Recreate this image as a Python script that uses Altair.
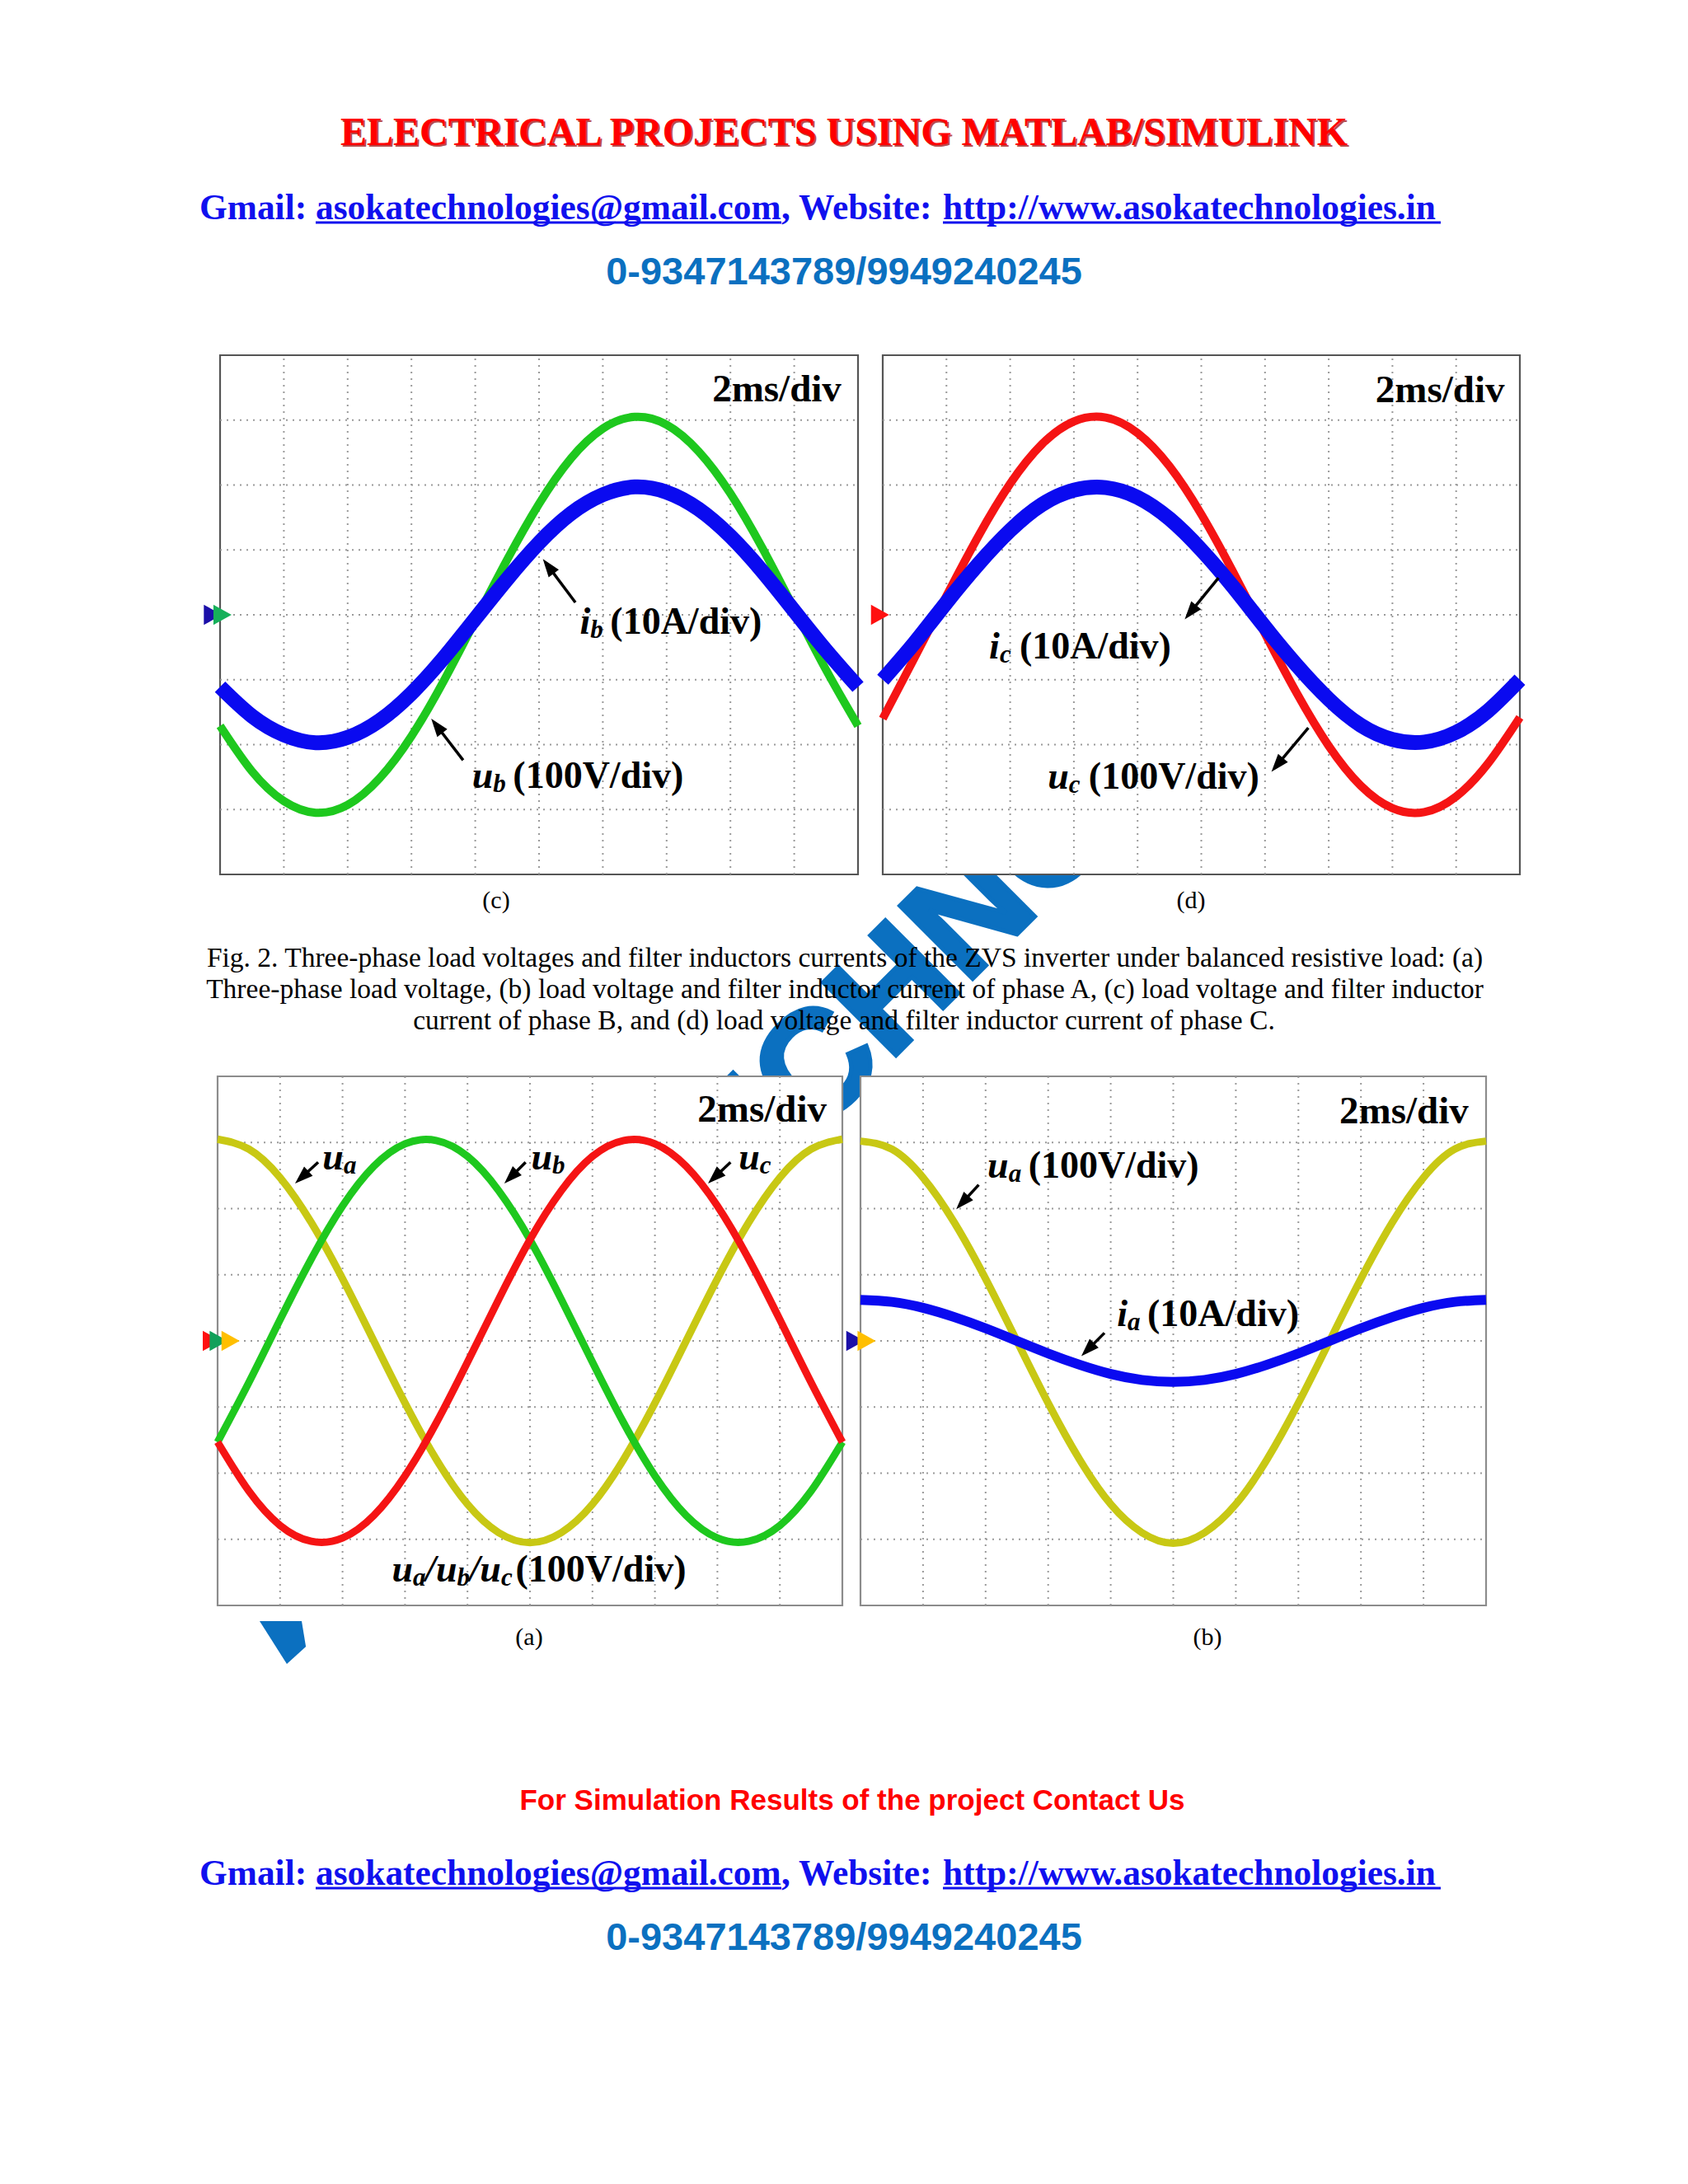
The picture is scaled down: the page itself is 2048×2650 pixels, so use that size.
import math
import altair as alt
import pandas as pd

# ---------------- values (scope divisions) ----------------
T_DIV = [0.0, 0.5, 1.0, 1.5, 2.0, 2.5, 3.0, 3.5, 4.0, 4.5, 5.0,
         5.5, 6.0, 6.5, 7.0, 7.5, 8.0, 8.5, 9.0, 9.5, 10.0]

# panel (c): phase B
C_UB = [-1.71, -2.41, -2.87, -3.05, -2.93, -2.52, -1.87, -1.03, -0.09, 0.85, 1.71,
        2.41, 2.87, 3.05, 2.93, 2.52, 1.87, 1.03, 0.09, -0.85, -1.71]
C_IB = [-1.11, -1.56, -1.85, -1.97, -1.89, -1.63, -1.21, -0.67, -0.06, 0.55, 1.11,
        1.56, 1.85, 1.97, 1.89, 1.63, 1.21, 0.67, 0.06, -0.55, -1.11]
# panel (d): phase C
D_UC = [-1.60, -0.66, 0.29, 1.21, 2.02, 2.63, 2.98, 3.04, 2.80, 2.29, 1.55,
        0.66, -0.29, -1.21, -2.02, -2.63, -2.98, -3.04, -2.80, -2.29, -1.58]
D_IC = [-1.00, -0.43, 0.19, 0.78, 1.30, 1.70, 1.92, 1.96, 1.81, 1.48, 1.00,
        0.43, -0.19, -0.78, -1.30, -1.70, -1.92, -1.96, -1.81, -1.48, -1.00]
# panel (a): three-phase voltages
A_UA = [3.05, 2.90, 2.47, 1.79, 0.94, 0.00, -0.94, -1.79, -2.47, -2.90, -3.05,
        -2.90, -2.47, -1.79, -0.94, 0.00, 0.94, 1.79, 2.47, 2.90, 3.05]
A_UB = [-1.53, -0.63, 0.32, 1.24, 2.04, 2.64, 2.98, 3.03, 2.79, 2.27, 1.53,
        0.63, -0.32, -1.24, -2.04, -2.64, -2.98, -3.03, -2.79, -2.27, -1.53]
A_UC = [-1.53, -2.27, -2.79, -3.03, -2.98, -2.64, -2.04, -1.24, -0.32, 0.63, 1.53,
        2.27, 2.79, 3.03, 2.98, 2.64, 2.04, 1.24, 0.32, -0.63, -1.53]
# panel (b): phase A
B_UA = [3.02, 2.90, 2.47, 1.79, 0.94, 0.00, -0.94, -1.79, -2.47, -2.90, -3.06,
        -2.90, -2.47, -1.79, -0.94, 0.00, 0.94, 1.79, 2.47, 2.90, 3.02]
B_IA = [0.62, 0.59, 0.50, 0.36, 0.19, 0.00, -0.19, -0.36, -0.50, -0.59, -0.62,
        -0.59, -0.50, -0.36, -0.19, 0.00, 0.19, 0.36, 0.50, 0.59, 0.62]

GRID_X = [1, 2, 3, 4, 5, 6, 7, 8, 9]
GRID_Y = [-3, -2, -1, 0, 1, 2, 3]

CAPTION = [
    "Fig. 2. Three-phase load voltages and filter inductors currents of the ZVS inverter under balanced resistive load: (a)",
    "Three-phase load voltage, (b) load voltage and filter inductor current of phase A, (c) load voltage and filter inductor",
    "current of phase B, and (d) load voltage and filter inductor current of phase C.",
]

# ---------------- styling / layout ----------------
SERIF = "Liberation Serif"
SANS = "Liberation Sans"
GREEN, BLUE, RED, YELLOW = "#1EC81E", "#0A0AF0", "#F51414", "#C8C814"
LINKBLUE, PHONEBLUE = "#1010EE", "#0B70C0"
ONE = pd.DataFrame({"k": [0]})

# panel boxes in chart pixels: x0, x1, ytop, ybottom
GEOM = {
    "c": (259, 1033, 423, 1053),
    "d": (1063, 1836, 423, 1053),
    "a": (256, 1014, 1298, 1940),
    "b": (1036, 1795, 1298, 1940),
}
TRI_RIGHT = "M-0.85,-1L0.95,0L-0.85,1Z"
ARROW = "M0,-1L0.7,1L-0.7,1Z"
WM_PIECE = "M-1,-0.77L0.7,-0.77L0.87,0.27L0.1,0.97Z"
HEAD = 22


def panel(key, curves, markers, labels, arrows, border):
    x0, x1, yt, yb = GEOM[key]
    xs = alt.Scale(domain=[0, 10], range=[x0, x1], nice=False, zero=False)
    ys = alt.Scale(domain=[-4, 4], range=[yb, yt], nice=False, zero=False)

    def X(f):
        return alt.X(f, type="quantitative", scale=xs, axis=None)

    def Y(f):
        return alt.Y(f, type="quantitative", scale=ys, axis=None)

    L = []
    frame = pd.DataFrame({"x": [0], "x2": [10], "y": [-4], "y2": [4]})
    L.append(alt.Chart(frame).mark_rect(fill="white", stroke=border, strokeWidth=2.2)
             .encode(x=X("x"), x2="x2", y=Y("y"), y2="y2"))
    gv = pd.DataFrame({"g": GRID_X, "lo": -4, "hi": 4})
    L.append(alt.Chart(gv).mark_rule(color="#9a9a9a", strokeWidth=2, strokeDash=[2, 6])
             .encode(x=X("g"), y=Y("lo"), y2="hi"))
    gh = pd.DataFrame({"g": GRID_Y, "lo": 0, "hi": 10})
    L.append(alt.Chart(gh).mark_rule(color="#9a9a9a", strokeWidth=2, strokeDash=[2, 6])
             .encode(y=Y("g"), x=X("lo"), x2="hi"))
    for vals, color, w in curves:
        df = pd.DataFrame({"t": T_DIV, "v": vals})
        L.append(alt.Chart(df).mark_line(color=color, strokeWidth=w, interpolate="natural",
                                         strokeJoin="round")
                 .encode(x=X("t"), y=Y("v")))
    for mx, color in markers:
        df = pd.DataFrame({"mx": [mx], "my": [0]})
        L.append(alt.Chart(df).mark_point(shape=TRI_RIGHT, filled=True, size=600, color=color,
                                          opacity=1, strokeWidth=0)
                 .encode(x=X("mx"), y=Y("my")))
    ppx = (x1 - x0) / 10.0
    ppy = (yb - yt) / 8.0
    for tx, ty, hx, hy in arrows:
        dxp = (hx - tx) * ppx
        dyp = -(hy - ty) * ppy
        ln = math.hypot(dxp, dyp)
        ang = math.degrees(math.atan2(dxp, -dyp)) % 360
        cx = hx - (dxp / ln) * HEAD * 0.5 / ppx
        cy = hy + (dyp / ln) * HEAD * 0.5 / ppy
        df = pd.DataFrame({"tx": [tx], "ty": [ty], "hx": [cx], "hy": [cy]})
        L.append(alt.Chart(df).mark_rule(color="black", strokeWidth=3.5)
                 .encode(x=X("tx"), y=Y("ty"), x2="hx", y2="hy"))
        L.append(alt.Chart(df).mark_point(shape=ARROW, filled=True, size=HEAD * HEAD,
                                          angle=round(ang, 1), color="black", opacity=1,
                                          strokeWidth=0)
                 .encode(x=X("hx"), y=Y("hy")))
    for lx, ly, pieces in labels:
        df = pd.DataFrame({"lx": [lx], "ly": [ly]})
        for text, dx, dy, size, style, align in pieces:
            L.append(alt.Chart(df).mark_text(text=text, dx=dx, dy=dy, fontSize=size, font=SERIF,
                                             fontWeight="bold", fontStyle=style, align=align,
                                             baseline="middle", color="black")
                     .encode(x=X("lx"), y=Y("ly")))
    return alt.layer(*L)


def sym(letter, sub, tail=None):
    """pieces of a label like u_b (100V/div)"""
    wl = 25.6 if letter == "u" else 12.8
    p = [(letter, 0, 0, 46, "italic", "left"), (sub, wl, 10, 31, "italic", "left")]
    if tail:
        p.append((tail, wl + 24, 0, 46, "normal", "left"))
    return p


TIMEBASE = [("2ms/div", 0, 0, 47, "normal", "right")]

panel_c = panel(
    "c",
    [(C_UB, GREEN, 10), (C_IB, BLUE, 18)],
    [(-0.12, "#1B0FA8"), (0.03, "#16B05A")],
    [(9.74, 3.47, TIMEBASE),
     (5.64, -0.12, sym("i", "b", "(10A/div)")),
     (3.95, -2.49, sym("u", "b", "(100V/div)"))],
    [(5.57, 0.19, 5.06, 0.86), (3.81, -2.24, 3.31, -1.60)],
    "#555555",
)
panel_d = panel(
    "d",
    [(D_UC, RED, 10), (D_IC, BLUE, 18)],
    [(-0.05, "#FF1010")],
    [(9.76, 3.46, TIMEBASE),
     (1.67, -0.50, sym("i", "c", "(10A/div)")),
     (2.59, -2.50, sym("u", "c", "(100V/div)"))],
    [(5.27, 0.57, 4.74, -0.07), (6.68, -1.74, 6.10, -2.42)],
    "#555555",
)
panel_a = panel(
    "a",
    [(A_UA, YELLOW, 9), (A_UB, GREEN, 9), (A_UC, RED, 9)],
    [(-0.10, "#FF1010"), (0.01, "#11A05A"), (0.20, "#FFBF00")],
    [(9.75, 3.49, TIMEBASE),
     (1.68, 2.77, sym("u", "a")),
     (5.02, 2.77, sym("u", "b")),
     (8.34, 2.77, sym("u", "c")),
     (2.79, -3.46,
      [("u", 0, 0, 46, "italic", "left"), ("a", 25.6, 10, 31, "italic", "left"),
       ("/", 40.6, 0, 46, "italic", "left"),
       ("u", 53.4, 0, 46, "italic", "left"), ("b", 79.0, 10, 31, "italic", "left"),
       ("/", 94.0, 0, 46, "italic", "left"),
       ("u", 106.8, 0, 46, "italic", "left"), ("c", 132.4, 10, 31, "italic", "left"),
       ("(100V/div)", 150, 0, 46, "normal", "left")])],
    [(1.61, 2.70, 1.24, 2.38), (4.93, 2.70, 4.59, 2.38), (8.21, 2.70, 7.85, 2.38)],
    "#8c8c8c",
)
panel_b = panel(
    "b",
    [(B_UA, YELLOW, 9), (B_IA, BLUE, 12)],
    [(-0.09, "#1B0FA8"), (0.09, "#FFBF00")],
    [(9.72, 3.46, TIMEBASE),
     (2.03, 2.64, sym("u", "a", "(100V/div)")),
     (4.10, 0.40, sym("i", "a", "(10A/div)"))],
    [(1.89, 2.36, 1.53, 1.99), (3.90, 0.12, 3.53, -0.23)],
    "#8c8c8c",
)


def text_px(text, x, y, size, font, color, weight="bold", align="center", angle=0,
            opacity=1, stroke_w=0):
    kw = {}
    if stroke_w:
        kw = {"stroke": color, "strokeWidth": stroke_w}
    return alt.Chart(ONE).mark_text(text=text, fontSize=size, font=font, color=color,
                                    fontWeight=weight, align=align, baseline="middle",
                                    angle=angle, opacity=opacity, **kw).encode(
        x=alt.value(x), y=alt.value(y))


def rule_px(x, x2, y, color, w):
    return alt.Chart(ONE).mark_rule(color=color, strokeWidth=w).encode(
        x=alt.value(x), x2=alt.value(x2), y=alt.value(y))


def contact(y):
    return [
        text_px("Gmail:", 234, y, 43.4, SERIF, LINKBLUE, align="left"),
        text_px("asokatechnologies@gmail.com", 375, y, 43.4, SERIF, LINKBLUE, align="left"),
        text_px(",  Website:", 940, y, 43.4, SERIF, LINKBLUE, align="left"),
        text_px("http://www.asokatechnologies.in", 1136, y, 43.4, SERIF, LINKBLUE, align="left"),
        rule_px(375, 940, y + 17, LINKBLUE, 3),
        rule_px(1136, 1740, y + 17, LINKBLUE, 3),
    ]


watermark_piece = alt.Chart(ONE).mark_point(
    shape=WM_PIECE, filled=True, size=3600, color=PHONEBLUE, opacity=1, strokeWidth=0
).encode(x=alt.value(337), y=alt.value(1982))

layers = [
    text_px("TECHNO", 1046, 1228, 182, SANS, PHONEBLUE, angle=315, stroke_w=5),
    watermark_piece,
    panel_c, panel_d, panel_a, panel_b,
    text_px("ELECTRICAL PROJECTS USING MATLAB/SIMULINK", 1018, 156, 48, SERIF, "#990000", opacity=0.7),
    text_px("ELECTRICAL PROJECTS USING MATLAB/SIMULINK", 1016, 154, 48, SERIF, "#FF0000"),
    *contact(245),
    text_px("0-9347143789/9949240245", 1016, 323, 47, SANS, PHONEBLUE),
    text_px("(c)", 594, 1085, 30, SERIF, "black", weight="normal"),
    text_px("(d)", 1437, 1085, 30, SERIF, "black", weight="normal"),
    text_px(CAPTION[0], 1017, 1155, 33.5, SERIF, "black", weight="normal"),
    text_px(CAPTION[1], 1017, 1193, 33.5, SERIF, "black", weight="normal"),
    text_px(CAPTION[2], 1016, 1231, 33.5, SERIF, "black", weight="normal"),
    text_px("(a)", 634, 1979, 30, SERIF, "black", weight="normal"),
    text_px("(b)", 1457, 1979, 30, SERIF, "black", weight="normal"),
    text_px("For Simulation Results of the project Contact Us", 1026, 2177, 35, SANS, "#FF0000"),
    *contact(2266),
    text_px("0-9347143789/9949240245", 1016, 2344, 47, SANS, PHONEBLUE),
]

chart = (
    alt.layer(*layers)
    .resolve_scale(x="independent", y="independent")
    .properties(width=2032, height=2634, padding=0,
                autosize=alt.AutoSizeParams(type="none"),
                view=alt.ViewBackground(stroke="transparent", strokeWidth=0))
    .configure_view(stroke="transparent", strokeWidth=0)
    .configure(background="white", style={"cell": {"stroke": "transparent", "strokeWidth": 0}})
)

chart.save("out.html", embed_options={"renderer": "svg", "actions": False})
